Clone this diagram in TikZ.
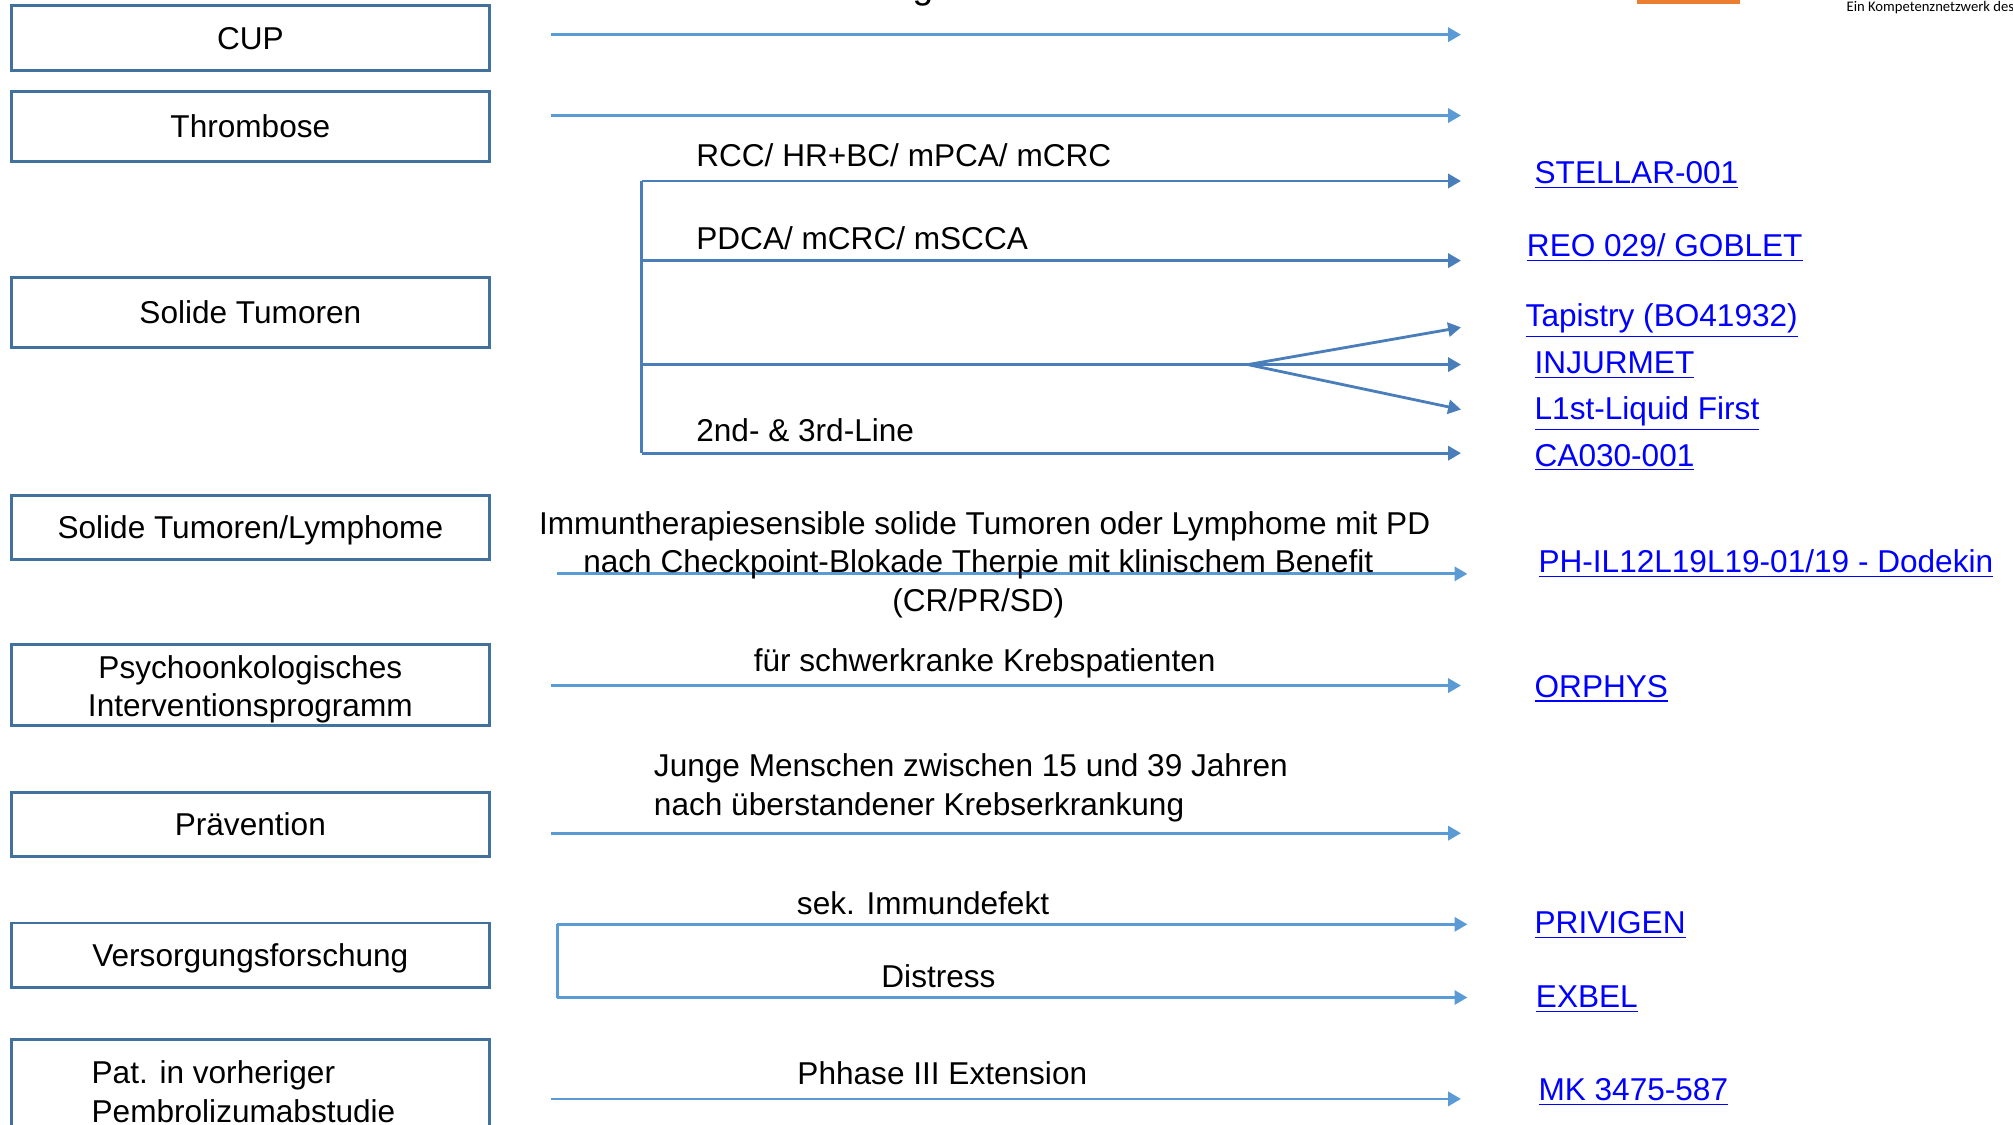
\documentclass[tikz,border=0pt]{standalone}
\usepackage{fontspec}
\setmainfont{Liberation Sans}
\newfontfamily\smallfnt{Carlito}
\usetikzlibrary{arrows.meta}
\definecolor{boxc}{HTML}{41719C}
\definecolor{arrc}{HTML}{5B9BD5}
\definecolor{arrd}{HTML}{4A7EBB}
\definecolor{lnk}{HTML}{0000FF}
\definecolor{orng}{HTML}{ED7D31}
\newcommand{\mainfs}{\fontsize{12.3pt}{15pt}\selectfont}
\begin{document}
\begin{tikzpicture}[x=0.5pt,y=-0.5pt,
  box/.style={draw=boxc, line width=1.1pt, minimum width=186pt, inner sep=0pt, align=center, font=\mainfs, text height=8.8pt, text depth=0pt},
  ebox/.style={draw=boxc, line width=1.1pt, minimum width=186pt, inner sep=0pt},
  btxt/.style={font=\mainfs, inner sep=0pt},
  lbl/.style={font=\mainfs, inner sep=0pt, anchor=base},
  lbll/.style={font=\mainfs, inner sep=0pt, anchor=base west},
  link/.style={font=\mainfs, text=lnk, inner sep=0pt, anchor=base west},
  arr/.style={draw=arrc, line width=1.1pt, -{Triangle[length=5pt,width=5.5pt]}},
  arrD/.style={draw=arrd, line width=1.1pt, -{Triangle[length=5pt,width=5.5pt]}},
  lnD/.style={draw=arrd, line width=1.1pt},
  lnC/.style={draw=arrc, line width=1.1pt}
]
\useasboundingbox (0,0) rectangle (1568,876);

% header fragments
\node[font=\fontsize{14.5pt}{16pt}\selectfont, anchor=base, inner sep=0pt] (ttl) at (719,-1) {g};
\fill[orng] (1275,0) rectangle (1355,3);
\node[font=\smallfnt\fontsize{5.7pt}{6pt}\selectfont, anchor=west, inner sep=0pt] (kn) at (1438,6) {Ein Kompetenznetzwerk des};

% left boxes
\node[box, minimum height=25.5pt] (cup) at (195,29.5) {CUP};
\node[box, minimum height=27.5pt] (thr) at (195,98.5) {Thrombose};
\node[box, minimum height=27.5pt] (sol) at (195,243.5) {Solide Tumoren};
\node[box, minimum height=25pt] (lym) at (195,411) {Solide Tumoren/Lymphome};
\node[ebox, minimum height=31.5pt] (psy) at (195,533.5) {};
\node[btxt, align=center] (psyt) at (195,537) {Psychoonkologisches\\Interventionsprogramm};
\node[box, minimum height=25pt] (pra) at (195,642) {Prävention};
\node[box, minimum height=25pt] (ver) at (195,744) {Versorgungsforschung};
\node[ebox, minimum height=40.5pt] (pat) at (195,850.5) {};
\node[btxt, align=left, anchor=west] (patt) at (71,850.5) {Pat. in vorheriger\\Pembrolizumabstudie};

% coordinates
\coordinate (c1) at (429,27);  \coordinate (c1e) at (1138,27);
\coordinate (t1) at (429,90);  \coordinate (t1e) at (1138,90);
\coordinate (s1) at (500,141); \coordinate (s1e) at (1138,141);
\coordinate (s2) at (500,203); \coordinate (s2e) at (1138,203);
\coordinate (s3) at (500,284); \coordinate (fk) at (972,284);
\coordinate (f1) at (1138,255); \coordinate (f2) at (1138,284); \coordinate (f3) at (1138,319);
\coordinate (s4) at (500,353); \coordinate (s4e) at (1138,353);
\coordinate (l1) at (434,447); \coordinate (l1e) at (1143,447);
\coordinate (p1) at (429,534); \coordinate (p1e) at (1138,534);
\coordinate (v1) at (429,649); \coordinate (v1e) at (1138,649);
\coordinate (r1) at (434,720); \coordinate (r1e) at (1143,720);
\coordinate (r2) at (434,777); \coordinate (r2e) at (1143,777);
\coordinate (m1) at (429,856); \coordinate (m1e) at (1138,856);

% arrows
\draw[arr] (c1) -- (c1e);
\draw[arr] (t1) -- (t1e);
\draw[lnD] (s1) -- (s4);
\draw[arrD] (s1) -- (s1e);
\draw[arrD] (s2) -- (s2e);
\draw[lnD] (s3) -- (fk);
\draw[arrD] (fk) -- (f1);
\draw[arrD] (fk) -- (f2);
\draw[arrD] (fk) -- (f3);
\draw[arrD] (s4) -- (s4e);
\draw[arr] (l1) -- (l1e);
\draw[arr] (p1) -- (p1e);
\draw[arr] (v1) -- (v1e);
\draw[lnC] (r1) -- (r2);
\draw[arr] (r1) -- (r1e);
\draw[arr] (r2) -- (r2e);
\draw[arr] (m1) -- (m1e);

% labels
\node[lbll] (la1) at (542,130) {RCC/ HR+BC/ mPCA/ mCRC};
\node[lbll] (la2) at (542,194) {PDCA/ mCRC/ mSCCA};
\node[lbll] (la3) at (542,344) {2nd- \& 3rd-Line};
\node[lbl] (lb1) at (767,416) {Immuntherapiesensible solide Tumoren oder Lymphome mit PD};
\node[lbl] (lb2) at (762,446) {nach Checkpoint-Blokade Therpie mit klinischem Benefit};
\node[lbl] (lb3) at (762,476) {(CR/PR/SD)};
\node[lbl] (lc1) at (767,523) {für schwerkranke Krebspatienten};
\node[lbll] (ld1) at (509,605) {Junge Menschen zwischen 15 und 39 Jahren};
\node[lbll] (ld2) at (509,635) {nach überstandener Krebserkrankung};
\node[lbl] (le1) at (719,712) {sek. Immundefekt};
\node[lbl] (le2) at (731,769) {Distress};
\node[lbl] (lf1) at (734,845) {Phhase III Extension};

% links
\node[link] (k1) at (1195,143) {\underline{STELLAR-001}};
\node[link] (k2) at (1189,200) {\underline{REO 029/ GOBLET}};
\node[link] (k3) at (1188,254) {\underline{Tapistry (BO41932)}};
\node[link] (k4) at (1195,291) {\underline{INJURMET}};
\node[link] (k5) at (1195,327) {\underline{L1st-Liquid First}};
\node[link] (k6) at (1195,363) {\underline{CA030-001}};
\node[link] (k7) at (1198,446) {\underline{PH-IL12L19L19-01/19 - Dodekin}};
\node[link] (k8) at (1195,543) {\underline{ORPHYS}};
\node[link] (k9) at (1195,727) {\underline{PRIVIGEN}};
\node[link] (k10) at (1196,785) {\underline{EXBEL}};
\node[link] (k11) at (1198,857) {\underline{MK 3475-587}};
\end{tikzpicture}
\end{document}
